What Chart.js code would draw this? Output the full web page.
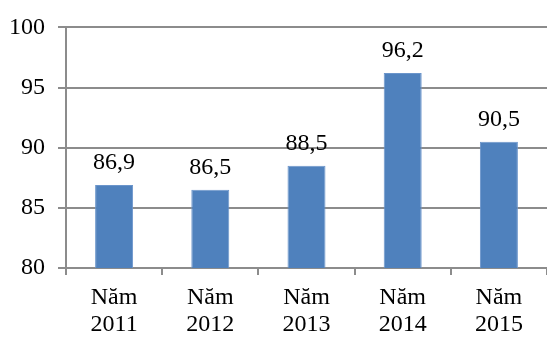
<!DOCTYPE html>
<html>
<head>
<meta charset="utf-8">
<script src="https://cdn.jsdelivr.net/npm/chart.js@4/dist/chart.umd.min.js"></script>
<style>
  html, body { margin: 0; padding: 0; background: #fff; }
  #wrap { width: 547px; height: 338px; }
</style>
</head>
<body>
<div id="wrap"><canvas id="c" width="547" height="338"></canvas></div>
<script>
const years = ['2011', '2012', '2013', '2014', '2015'];
const values = [86.9, 86.5, 88.5, 96.2, 90.5];
const yTicks = [80, 85, 90, 95, 100];

const labels = years.map(y => ['Năm', y]);
const FONT = '"Liberation Serif", "Times New Roman", serif';

// Writes each bar's value above it, with a decimal comma
const valueLabels = {
  id: 'valueLabels',
  afterDatasetsDraw(chart) {
    const ctx = chart.ctx;
    const meta = chart.getDatasetMeta(0);
    ctx.save();
    ctx.font = '24px ' + FONT;
    ctx.fillStyle = '#000';
    ctx.textAlign = 'center';
    ctx.textBaseline = 'alphabetic';
    meta.data.forEach((bar, i) => {
      const txt = values[i].toFixed(1).replace('.', ',');
      ctx.fillText(txt, bar.x, bar.y - 16);
    });
    ctx.restore();
  }
};

new Chart(document.getElementById('c'), {
  type: 'bar',
  data: {
    labels: labels,
    datasets: [{
      data: values,
      backgroundColor: '#4F81BD',
      borderColor: '#6b95cb',
      borderWidth: 1,
      categoryPercentage: 1,
      barPercentage: 0.395
    }]
  },
  options: {
    responsive: false,
    animation: false,
    layout: { padding: { top: 24, right: 0, left: 0, bottom: 0 } },
    plugins: { legend: { display: false }, tooltip: { enabled: false } },
    scales: {
      x: {
        grid: {
          drawOnChartArea: false,
          drawTicks: true,
          tickLength: 7,
          color: '#8c8c8c',
          lineWidth: 2
        },
        border: { color: '#8c8c8c', width: 2 },
        ticks: {
          color: '#000',
          font: { family: FONT, size: 24, lineHeight: 1.12 },
          padding: 9,
          maxRotation: 0
        },
        afterFit(scale) { scale.height = 70; }
      },
      y: {
        min: 80,
        max: 100,
        afterBuildTicks(scale) { scale.ticks = yTicks.map(v => ({ value: v })); },
        grid: {
          color: '#8c8c8c',
          lineWidth: 2,
          tickLength: 8
        },
        border: { color: '#8c8c8c', width: 2 },
        ticks: {
          color: '#000',
          font: { family: FONT, size: 24 },
          padding: 13
        },
        afterFit(scale) { scale.width = 66; }
      }
    }
  },
  plugins: [valueLabels]
});
</script>
</body>
</html>
